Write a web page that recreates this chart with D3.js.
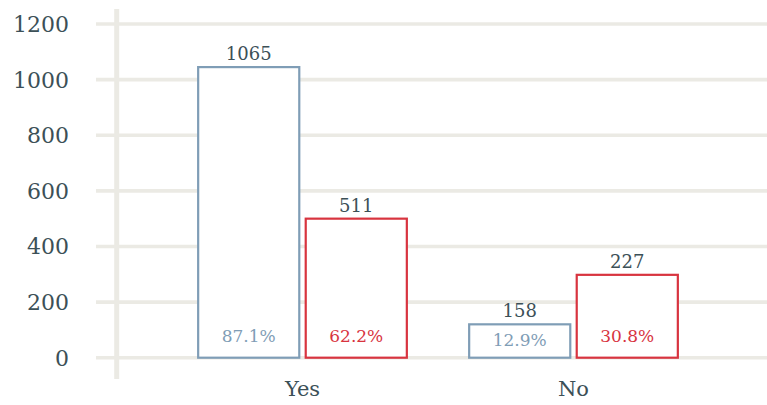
<!DOCTYPE html>
<html>
<head>
<meta charset="utf-8">
<script src="https://cdn.jsdelivr.net/npm/d3@7"></script>
<style>
  body { margin: 0; background: #fff; }
  text { font-family: Georgia, "DejaVu Serif", serif; }
</style>
</head>
<body>
<div id="chart"></div>
<script>
var w = 767, h = 405;

// Data
var categories = ["Yes", "No"];
var seriesNames = ["a", "b"];
var barValues = { a: [1045, 120], b: [500, 298] };     // bar heights
var countLabels = { a: ["1065", "158"], b: ["511", "227"] };
var pctLabels = { a: ["87.1%", "12.9%"], b: ["62.2%", "30.8%"] };
var yTicks = [0, 200, 400, 600, 800, 1000, 1200];

var colors = { a: "#7f9db6", b: "#d8343f" };
var textColor = "#3c5057";
var gridColor = "#ebeae4";

var svg = d3.select("#chart").append("svg")
    .attr("width", w)
    .attr("height", h);

// Scales
var x0 = d3.scaleBand().domain(categories).range([167, 709]).paddingInner(0.23).paddingOuter(0.115);
var x1 = d3.scaleBand().domain(seriesNames).range([0, x0.bandwidth()]).paddingInner(0.06);
var y = d3.scaleLinear().domain([0, 1200]).range([357.7, 24]);

// Grid lines
svg.append("g")
   .selectAll("line")
   .data(yTicks)
   .enter()
   .append("line")
   .attr("x1", 96)
   .attr("x2", w)
   .attr("y1", function(d) { return y(d); })
   .attr("y2", function(d) { return y(d); })
   .attr("stroke", gridColor)
   .attr("stroke-width", 3.6);

// Vertical axis line
svg.append("line")
   .attr("x1", 116.7).attr("x2", 116.7)
   .attr("y1", 9).attr("y2", 379)
   .attr("stroke", gridColor)
   .attr("stroke-width", 5);

// Y tick labels
svg.append("g")
   .selectAll("text")
   .data(yTicks)
   .enter()
   .append("text")
   .attr("x", 69)
   .attr("y", function(d) { return y(d) + 8; })
   .attr("text-anchor", "end")
   .attr("fill", textColor)
   .style("font-size", "22px")
   .text(function(d) { return d; });

// Bars
var groups = svg.selectAll(".grp")
    .data(categories)
    .enter()
    .append("g")
    .attr("class", "grp")
    .attr("transform", function(d) { return "translate(" + x0(d) + ",0)"; });

groups.each(function(cat, i) {
    var g = d3.select(this);
    seriesNames.forEach(function(s) {
        var v = barValues[s][i];
        g.append("rect")
         .attr("x", x1(s))
         .attr("y", y(v))
         .attr("width", x1.bandwidth())
         .attr("height", y(0) - y(v))
         .attr("fill", "#fff")
         .attr("stroke", colors[s])
         .attr("stroke-width", 2.2);

        g.append("text")
         .attr("x", x1(s) + x1.bandwidth() / 2)
         .attr("y", y(v) - 7)
         .attr("text-anchor", "middle")
         .attr("fill", textColor)
         .style("font-size", "18px")
         .text(countLabels[s][i]);

        g.append("text")
         .attr("x", x1(s) + x1.bandwidth() / 2)
         .attr("y", Math.max(y(0) - 16, y(v) + 22))
         .attr("text-anchor", "middle")
         .attr("fill", colors[s])
         .style("font-size", "17px")
         .text(pctLabels[s][i]);
    });
});

// Category labels
svg.append("g")
   .selectAll("text")
   .data(categories)
   .enter()
   .append("text")
   .attr("x", function(d) { return x0(d) + x0.bandwidth() / 2; })
   .attr("y", 396)
   .attr("text-anchor", "middle")
   .attr("fill", textColor)
   .style("font-size", "21px")
   .text(function(d) { return d; });
</script>
</body>
</html>
